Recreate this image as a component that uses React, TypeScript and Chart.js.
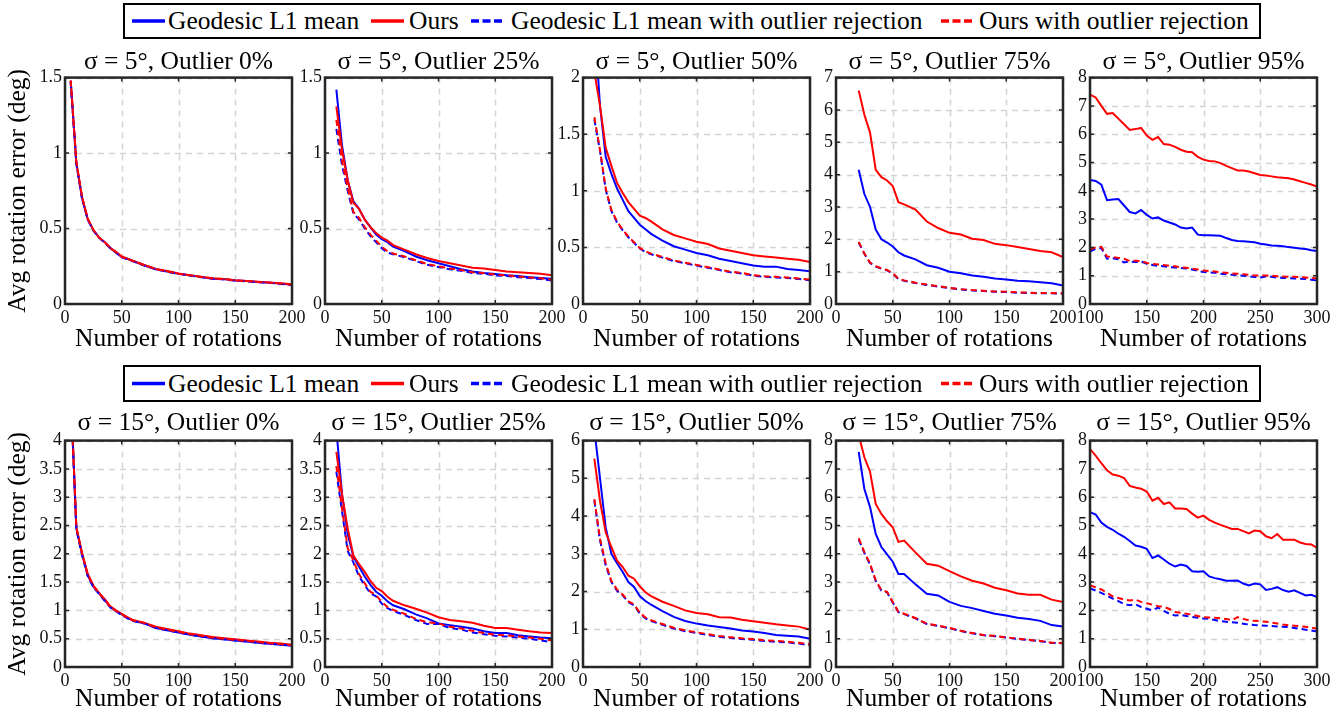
import React, { useEffect, useRef } from "react";
import { Chart, registerables } from "chart.js";

Chart.register(...registerables);

const FONT = "'Liberation Serif', 'Times New Roman', serif";

// ---------- data ----------
const SIGMAS = ["5°", "15°"];
const OUTLIERS = ["0%", "25%", "50%", "75%", "95%"];
const SERIES_LABELS = [
  "Geodesic L1 mean",
  "Ours",
  "Geodesic L1 mean with outlier rejection",
  "Ours with outlier rejection",
];

const X_A = [5, 10, 15, 20, 25, 30, 35, 40, 45, 50, 55, 60, 70, 80, 90, 100, 110, 120, 130, 140, 150, 160, 170, 180, 190, 200];
const X_B = [10, 15, 20, 25, 30, 35, 40, 45, 50, 55, 60, 70, 80, 90, 100, 110, 120, 130, 140, 150, 160, 170, 180, 190, 200];
const X_C = [20, 25, 30, 35, 40, 45, 50, 55, 60, 70, 80, 90, 100, 110, 120, 130, 140, 150, 160, 170, 180, 190, 200];
const X_D = [100, 105, 110, 115, 120, 125, 130, 135, 140, 145, 150, 155, 160, 165, 170, 175, 180, 185, 190, 195, 200, 205, 210, 215, 220, 225, 230, 235, 240, 245, 250, 255, 260, 265, 270, 275, 280, 285, 290, 295, 300];

// sigma 5, outlier 0%
const s5o0_geo = [1.48, 0.93, 0.70, 0.56, 0.49, 0.44, 0.41, 0.37, 0.34, 0.31, 0.30, 0.285, 0.255, 0.23, 0.215, 0.20, 0.19, 0.178, 0.168, 0.165, 0.155, 0.152, 0.145, 0.14, 0.135, 0.127];
const s5o0_ours = [1.48, 0.94, 0.71, 0.565, 0.49, 0.44, 0.41, 0.37, 0.345, 0.315, 0.30, 0.285, 0.258, 0.232, 0.218, 0.202, 0.19, 0.18, 0.17, 0.165, 0.157, 0.153, 0.147, 0.142, 0.137, 0.13];
const s5o0_geoRej = [1.47, 0.93, 0.70, 0.56, 0.485, 0.44, 0.405, 0.37, 0.34, 0.31, 0.295, 0.283, 0.255, 0.23, 0.213, 0.20, 0.188, 0.178, 0.168, 0.163, 0.155, 0.15, 0.145, 0.14, 0.133, 0.125];
const s5o0_oursRej = [1.48, 0.94, 0.71, 0.565, 0.49, 0.44, 0.41, 0.372, 0.343, 0.313, 0.298, 0.285, 0.257, 0.232, 0.216, 0.201, 0.19, 0.179, 0.169, 0.165, 0.156, 0.152, 0.146, 0.141, 0.135, 0.128];

// sigma 5, outlier 25%
const s5o25_geo = [1.42, 1.05, 0.82, 0.68, 0.63, 0.56, 0.51, 0.46, 0.43, 0.41, 0.38, 0.35, 0.315, 0.29, 0.27, 0.25, 0.23, 0.215, 0.205, 0.198, 0.19, 0.185, 0.178, 0.172, 0.167];
const s5o25_ours = [1.31, 1.02, 0.82, 0.67, 0.63, 0.56, 0.51, 0.47, 0.44, 0.42, 0.39, 0.36, 0.33, 0.305, 0.285, 0.27, 0.255, 0.24, 0.235, 0.225, 0.215, 0.21, 0.205, 0.2, 0.19];
const s5o25_geoRej = [1.16, 0.92, 0.75, 0.60, 0.56, 0.50, 0.45, 0.41, 0.37, 0.34, 0.33, 0.31, 0.285, 0.26, 0.245, 0.23, 0.22, 0.205, 0.2, 0.19, 0.185, 0.178, 0.172, 0.165, 0.155];
const s5o25_oursRej = [1.22, 0.95, 0.77, 0.61, 0.57, 0.51, 0.46, 0.42, 0.38, 0.35, 0.335, 0.315, 0.29, 0.265, 0.25, 0.235, 0.225, 0.21, 0.205, 0.195, 0.19, 0.182, 0.176, 0.17, 0.16];

// sigma 5, outlier 50%
const s5o50_geo = [2.5, 1.75, 1.3, 1.15, 1.02, 0.92, 0.82, 0.76, 0.70, 0.66, 0.62, 0.56, 0.51, 0.48, 0.45, 0.43, 0.40, 0.38, 0.36, 0.34, 0.33, 0.33, 0.31, 0.30, 0.29];
const s5o50_ours = [2.05, 1.75, 1.38, 1.22, 1.07, 0.98, 0.90, 0.84, 0.78, 0.76, 0.73, 0.66, 0.61, 0.58, 0.55, 0.53, 0.49, 0.47, 0.45, 0.43, 0.42, 0.41, 0.40, 0.39, 0.37];
const s5o50_geoRej = [1.63, 1.35, 1.01, 0.82, 0.72, 0.65, 0.59, 0.54, 0.49, 0.46, 0.44, 0.41, 0.38, 0.36, 0.34, 0.32, 0.30, 0.28, 0.27, 0.25, 0.24, 0.235, 0.23, 0.22, 0.21];
const s5o50_oursRej = [1.65, 1.36, 1.02, 0.83, 0.73, 0.655, 0.595, 0.545, 0.495, 0.465, 0.445, 0.415, 0.385, 0.365, 0.345, 0.325, 0.305, 0.285, 0.275, 0.255, 0.245, 0.24, 0.235, 0.225, 0.215];

// sigma 5, outlier 75%
const s5o75_geo = [4.15, 3.4, 3.0, 2.3, 2.0, 1.9, 1.78, 1.6, 1.5, 1.38, 1.2, 1.12, 1.0, 0.95, 0.88, 0.84, 0.79, 0.76, 0.72, 0.7, 0.67, 0.64, 0.57];
const s5o75_ours = [6.6, 5.85, 5.3, 4.15, 3.92, 3.82, 3.65, 3.15, 3.08, 2.92, 2.55, 2.35, 2.2, 2.15, 2.02, 1.98, 1.86, 1.82, 1.76, 1.7, 1.64, 1.6, 1.45];
const s5o75_geoRej = [1.90, 1.55, 1.27, 1.16, 1.09, 1.04, 0.94, 0.77, 0.72, 0.65, 0.59, 0.54, 0.49, 0.45, 0.42, 0.40, 0.38, 0.37, 0.35, 0.34, 0.33, 0.33, 0.32];
const s5o75_oursRej = [1.92, 1.56, 1.28, 1.17, 1.10, 1.05, 0.95, 0.78, 0.73, 0.66, 0.60, 0.55, 0.50, 0.46, 0.43, 0.41, 0.39, 0.38, 0.36, 0.35, 0.34, 0.34, 0.33];

// sigma 5, outlier 95%
const s5o95_geo = [4.38, 4.35, 4.22, 3.67, 3.69, 3.71, 3.48, 3.25, 3.2, 3.32, 3.15, 3.02, 3.06, 2.95, 2.88, 2.81, 2.7, 2.67, 2.7, 2.45, 2.43, 2.43, 2.42, 2.41, 2.33, 2.26, 2.23, 2.22, 2.2, 2.18, 2.13, 2.1, 2.07, 2.06, 2.04, 2.01, 1.99, 1.96, 1.94, 1.9, 1.87];
const s5o95_ours = [7.4, 7.3, 7.0, 6.72, 6.75, 6.55, 6.35, 6.15, 6.18, 6.22, 5.95, 5.8, 5.9, 5.65, 5.63, 5.55, 5.45, 5.38, 5.36, 5.2, 5.1, 5.05, 5.04, 4.98, 4.88, 4.8, 4.72, 4.72, 4.68, 4.62, 4.56, 4.54, 4.51, 4.48, 4.46, 4.44, 4.4, 4.34, 4.28, 4.22, 4.15];
const s5o95_geoRej = [1.85, 1.95, 1.98, 1.6, 1.62, 1.58, 1.47, 1.5, 1.48, 1.5, 1.42, 1.38, 1.35, 1.33, 1.3, 1.29, 1.27, 1.25, 1.22, 1.17, 1.13, 1.12, 1.1, 1.07, 1.05, 1.03, 1.02, 1.0, 0.98, 0.95, 0.94, 0.97, 0.96, 0.93, 0.92, 0.91, 0.9, 0.89, 0.88, 0.86, 0.83];
const s5o95_oursRej = [1.92, 2.0, 2.02, 1.68, 1.66, 1.63, 1.6, 1.52, 1.53, 1.52, 1.45, 1.42, 1.4, 1.38, 1.35, 1.33, 1.3, 1.28, 1.25, 1.22, 1.18, 1.16, 1.15, 1.12, 1.1, 1.08, 1.07, 1.05, 1.03, 1.01, 1.0, 1.01, 1.0, 0.98, 0.97, 0.96, 0.96, 0.95, 0.94, 0.92, 0.9];

// sigma 15, outlier 0%
const s15o0_geo = [4.9, 2.45, 2.0, 1.62, 1.42, 1.3, 1.18, 1.06, 0.99, 0.93, 0.87, 0.82, 0.77, 0.69, 0.65, 0.61, 0.57, 0.54, 0.51, 0.49, 0.47, 0.45, 0.43, 0.41, 0.395, 0.375];
const s15o0_ours = [4.9, 2.47, 2.02, 1.65, 1.44, 1.31, 1.2, 1.07, 1.0, 0.94, 0.88, 0.83, 0.78, 0.71, 0.67, 0.63, 0.59, 0.56, 0.53, 0.51, 0.49, 0.47, 0.45, 0.43, 0.415, 0.395];
const s15o0_geoRej = [4.85, 2.43, 1.98, 1.61, 1.41, 1.29, 1.17, 1.05, 0.98, 0.92, 0.86, 0.81, 0.77, 0.69, 0.65, 0.61, 0.57, 0.54, 0.51, 0.49, 0.47, 0.45, 0.43, 0.41, 0.395, 0.38];
const s15o0_oursRej = [4.9, 2.46, 2.0, 1.63, 1.43, 1.3, 1.19, 1.06, 0.99, 0.93, 0.87, 0.82, 0.78, 0.7, 0.66, 0.62, 0.58, 0.55, 0.52, 0.5, 0.48, 0.46, 0.44, 0.42, 0.405, 0.385];

// sigma 15, outlier 25%
const s15o25_geo = [4.2, 3.05, 2.35, 1.95, 1.77, 1.6, 1.45, 1.33, 1.26, 1.16, 1.09, 1.02, 0.93, 0.86, 0.77, 0.74, 0.71, 0.68, 0.63, 0.6, 0.6, 0.56, 0.54, 0.52, 0.51];
const s15o25_ours = [3.8, 3.05, 2.45, 1.97, 1.82, 1.68, 1.52, 1.4, 1.34, 1.24, 1.17, 1.09, 1.03, 0.96, 0.88, 0.83, 0.81, 0.78, 0.73, 0.69, 0.69, 0.66, 0.63, 0.61, 0.6];
const s15o25_geoRej = [3.45, 2.75, 2.05, 1.85, 1.6, 1.45, 1.3, 1.25, 1.12, 1.04, 0.99, 0.92, 0.83, 0.76, 0.76, 0.69, 0.66, 0.61, 0.58, 0.55, 0.54, 0.52, 0.5, 0.47, 0.44];
const s15o25_oursRej = [3.55, 2.8, 2.1, 1.88, 1.64, 1.48, 1.33, 1.27, 1.15, 1.06, 1.01, 0.94, 0.85, 0.79, 0.77, 0.71, 0.68, 0.64, 0.6, 0.57, 0.56, 0.54, 0.52, 0.5, 0.47];

// sigma 15, outlier 50%
const s15o50_geo = [6.3, 5.0, 3.7, 3.0, 2.75, 2.52, 2.25, 2.12, 1.88, 1.75, 1.65, 1.48, 1.33, 1.22, 1.15, 1.1, 1.06, 1.02, 0.97, 0.94, 0.9, 0.85, 0.83, 0.81, 0.75];
const s15o50_ours = [5.52, 4.4, 3.57, 3.18, 2.82, 2.65, 2.42, 2.34, 2.14, 1.98, 1.88, 1.73, 1.62, 1.5, 1.43, 1.4, 1.32, 1.31, 1.25, 1.21, 1.17, 1.13, 1.1, 1.07, 0.99];
const s15o50_geoRej = [4.41, 3.35, 2.7, 2.25, 2.02, 1.9, 1.72, 1.63, 1.42, 1.29, 1.22, 1.12, 1.02, 0.95, 0.9, 0.85, 0.8, 0.77, 0.74, 0.72, 0.69, 0.67, 0.65, 0.62, 0.57];
const s15o50_oursRej = [4.45, 3.4, 2.75, 2.28, 2.05, 1.92, 1.74, 1.66, 1.44, 1.31, 1.24, 1.14, 1.04, 0.97, 0.92, 0.87, 0.82, 0.79, 0.76, 0.74, 0.71, 0.69, 0.67, 0.64, 0.6];

// sigma 15, outlier 75%
const s15o75_geo = [7.6, 6.29, 5.65, 4.7, 4.24, 3.98, 3.72, 3.29, 3.29, 2.92, 2.59, 2.53, 2.3, 2.16, 2.08, 1.98, 1.88, 1.82, 1.74, 1.7, 1.63, 1.48, 1.43];
const s15o75_ours = [8.2, 7.41, 6.9, 5.76, 5.41, 5.15, 4.94, 4.42, 4.47, 4.05, 3.65, 3.58, 3.39, 3.2, 3.05, 2.95, 2.8, 2.71, 2.6, 2.55, 2.55, 2.38, 2.3];
const s15o75_geoRej = [4.5, 4.03, 3.62, 3.04, 2.7, 2.64, 2.28, 1.94, 1.87, 1.72, 1.52, 1.45, 1.37, 1.27, 1.19, 1.12, 1.09, 1.04, 0.99, 0.95, 0.91, 0.85, 0.84];
const s15o75_oursRej = [4.55, 4.06, 3.65, 3.06, 2.72, 2.66, 2.3, 1.95, 1.88, 1.73, 1.53, 1.46, 1.38, 1.28, 1.2, 1.13, 1.1, 1.05, 1.0, 0.96, 0.92, 0.86, 0.85];

// sigma 15, outlier 95%
const s15o95_geo = [5.47, 5.39, 5.1, 4.95, 4.85, 4.71, 4.6, 4.45, 4.29, 4.25, 4.18, 3.85, 3.94, 3.8, 3.65, 3.55, 3.62, 3.57, 3.38, 3.37, 3.38, 3.2, 3.14, 3.1, 3.05, 3.05, 3.06, 2.95, 2.88, 2.95, 2.92, 2.72, 2.76, 2.82, 2.72, 2.66, 2.71, 2.62, 2.53, 2.55, 2.47];
const s15o95_ours = [7.7, 7.47, 7.2, 6.95, 6.8, 6.76, 6.68, 6.4, 6.34, 6.3, 6.2, 5.88, 5.98, 5.76, 5.82, 5.6, 5.6, 5.58, 5.42, 5.28, 5.35, 5.2, 5.1, 5.02, 4.95, 4.88, 4.88, 4.8, 4.72, 4.82, 4.8, 4.62, 4.55, 4.7, 4.5, 4.5, 4.5, 4.4, 4.35, 4.33, 4.21];
const s15o95_geoRej = [2.78, 2.7, 2.62, 2.52, 2.42, 2.33, 2.22, 2.18, 2.22, 2.12, 2.06, 2.0, 2.1, 1.98, 1.88, 1.82, 1.84, 1.8, 1.77, 1.74, 1.71, 1.7, 1.66, 1.62, 1.6, 1.58, 1.56, 1.53, 1.5, 1.48, 1.47, 1.46, 1.45, 1.43, 1.42, 1.41, 1.38, 1.35, 1.32, 1.29, 1.25];
const s15o95_oursRej = [2.88, 2.82, 2.74, 2.62, 2.5, 2.44, 2.38, 2.35, 2.38, 2.3, 2.25, 2.2, 2.15, 2.13, 2.05, 1.94, 1.92, 1.88, 1.85, 1.8, 1.76, 1.75, 1.74, 1.72, 1.7, 1.65, 1.76, 1.7, 1.65, 1.63, 1.62, 1.6, 1.57, 1.54, 1.5, 1.47, 1.46, 1.44, 1.42, 1.39, 1.35];

// axes ranges
const X_MIN = [0, 0, 0, 0, 100];
const X_MAX = [200, 200, 200, 200, 300];
const X_STEP = 50;
const Y_MAX = [
  [1.5, 1.5, 2, 7, 8],
  [4, 4, 6, 8, 8],
];
const Y_STEP = [
  [0.5, 0.5, 0.5, 1, 1],
  [0.5, 0.5, 1, 1, 1],
];

const PANEL_X = [
  [X_A, X_B, X_B, X_C, X_D],
  [X_A, X_B, X_B, X_C, X_D],
];
const PANEL_Y = [
  [
    [s5o0_geo, s5o0_ours, s5o0_geoRej, s5o0_oursRej],
    [s5o25_geo, s5o25_ours, s5o25_geoRej, s5o25_oursRej],
    [s5o50_geo, s5o50_ours, s5o50_geoRej, s5o50_oursRej],
    [s5o75_geo, s5o75_ours, s5o75_geoRej, s5o75_oursRej],
    [s5o95_geo, s5o95_ours, s5o95_geoRej, s5o95_oursRej],
  ],
  [
    [s15o0_geo, s15o0_ours, s15o0_geoRej, s15o0_oursRej],
    [s15o25_geo, s15o25_ours, s15o25_geoRej, s15o25_oursRej],
    [s15o50_geo, s15o50_ours, s15o50_geoRej, s15o50_oursRej],
    [s15o75_geo, s15o75_ours, s15o75_geoRej, s15o75_oursRej],
    [s15o95_geo, s15o95_ours, s15o95_geoRej, s15o95_oursRej],
  ],
];

// ---------- styles / layout ----------
const SERIES_COLORS = ["#0000ff", "#ff0000", "#0000ff", "#ff0000"];
const SERIES_DASHED = [false, false, true, true];

const PLOT_LEFT = [65, 325, 583, 836, 1090];
const PLOT_W = 227;
const PLOT_H = 227;
const ROW_TOP = [77, 440];
const TITLE_H = [30, 32];
const XAXIS_H = [52, 48];
const RIGHT_PAD = 20;
const LEGEND_TOP = [3, 365];
const LEGEND_H = [36, 37];
const LEGEND_LEFT = 123;
const LEGEND_W = 1138;
const LEG_LINE_X = [132, 371, 471, 941];
const LEG_TEXT_X = [168, 409, 511, 979];

const AXIS_COLOR = "#262626";

const boxPlugin = {
  id: "matlabBox",
  beforeDatasetsDraw(chart: any) {
    const { ctx, chartArea, scales } = chart;
    const { left, right, top, bottom } = chartArea;
    ctx.save();
    ctx.strokeStyle = "#d4d4d4";
    ctx.lineWidth = 1.5;
    ctx.setLineDash([6, 5]);
    ctx.beginPath();
    scales.x.ticks.forEach((t: any) => {
      const px = Math.round(scales.x.getPixelForValue(t.value)) + 0.5;
      ctx.moveTo(px, top);
      ctx.lineTo(px, bottom);
    });
    scales.y.ticks.forEach((t: any) => {
      const py = Math.round(scales.y.getPixelForValue(t.value)) + 0.5;
      ctx.moveTo(left, py);
      ctx.lineTo(right, py);
    });
    ctx.stroke();
    ctx.restore();
  },
  afterDatasetsDraw(chart: any) {
    const { ctx, chartArea, scales } = chart;
    const { left, right, top, bottom } = chartArea;
    const tl = 4;
    ctx.save();
    ctx.setLineDash([]);
    ctx.strokeStyle = AXIS_COLOR;
    ctx.lineWidth = 1.5;
    ctx.beginPath();
    scales.x.ticks.forEach((t: any) => {
      const px = scales.x.getPixelForValue(t.value);
      ctx.moveTo(px, bottom);
      ctx.lineTo(px, bottom - tl);
      ctx.moveTo(px, top);
      ctx.lineTo(px, top + tl);
    });
    scales.y.ticks.forEach((t: any) => {
      const py = scales.y.getPixelForValue(t.value);
      ctx.moveTo(left, py);
      ctx.lineTo(left + tl, py);
      ctx.moveTo(right, py);
      ctx.lineTo(right - tl, py);
    });
    ctx.stroke();
    ctx.lineWidth = 2.5;
    ctx.strokeRect(left, top, right - left, bottom - top);
    ctx.restore();
  },
};

function makeConfig(row: number, col: number, yw: number) {
  const xs = PANEL_X[row][col];
  const series = PANEL_Y[row][col];
  const bigFont = { family: FONT, size: 25.5, weight: "normal" as const, lineHeight: 1.2 };
  const tickFont = { family: FONT, size: 18, weight: "normal" as const, lineHeight: 1.2 };
  return {
    type: "line" as const,
    data: {
      datasets: series.map((ys, k) => ({
        label: SERIES_LABELS[k],
        data: xs.map((x, i) => ({ x, y: ys[i] })),
        borderColor: SERIES_COLORS[k],
        backgroundColor: SERIES_COLORS[k],
        borderWidth: 2,
        borderDash: SERIES_DASHED[k] ? [6, 4] : [],
        pointRadius: 0,
        tension: 0,
        fill: false,
        order: 3 - k,
      })),
    },
    options: {
      responsive: false,
      animation: false as const,
      events: [],
      layout: { padding: { left: 0, right: RIGHT_PAD, top: 0, bottom: 0 } },
      plugins: {
        legend: { display: false },
        tooltip: { enabled: false },
        title: {
          display: true,
          fullSize: false,
          text: `σ = ${SIGMAS[row]}, Outlier ${OUTLIERS[col]}`,
          color: "#000",
          font: bigFont,
          padding: { top: 0, bottom: TITLE_H[row] - 30 },
        },
      },
      scales: {
        x: {
          type: "linear" as const,
          min: X_MIN[col],
          max: X_MAX[col],
          ticks: {
            stepSize: X_STEP,
            padding: 3,
            autoSkip: false,
            maxRotation: 0,
            color: "#111",
            font: tickFont,
          },
          grid: { display: false, drawTicks: false },
          border: { display: false },
          title: {
            display: true,
            text: "Number of rotations",
            color: "#000",
            font: bigFont,
            padding: { top: 0, bottom: row === 0 ? 1 : 0 },
          },
          afterFit: (s: any) => {
            s.height = XAXIS_H[row];
          },
        },
        y: {
          type: "linear" as const,
          min: 0,
          max: Y_MAX[row][col],
          ticks: {
            stepSize: Y_STEP[row][col],
            padding: 3,
            color: "#111",
            font: tickFont,
            callback: (v: any) => String(Math.round(Number(v) * 100) / 100),
          },
          grid: { display: false, drawTicks: false },
          border: { display: false },
          title: {
            display: col === 0,
            text: "Avg rotation error (deg)",
            color: "#000",
            font: bigFont,
            padding: { top: 3, bottom: 0 },
          },
          afterFit: (s: any) => {
            s.width = yw;
          },
        },
      },
    },
    plugins: [boxPlugin],
  };
}

function Panel({ row, col }: { row: number; col: number }) {
  const ref = useRef<HTMLCanvasElement | null>(null);
  const yw = col === 0 ? PLOT_LEFT[0] : 30;
  const left = PLOT_LEFT[col] - yw;
  const top = ROW_TOP[row] - TITLE_H[row];
  const width = yw + PLOT_W + RIGHT_PAD;
  const height = TITLE_H[row] + PLOT_H + XAXIS_H[row];
  useEffect(() => {
    if (!ref.current) return;
    const chart = new Chart(ref.current, makeConfig(row, col, yw) as any);
    return () => chart.destroy();
  }, [row, col, yw]);
  return (
    <canvas
      ref={ref}
      width={width}
      height={height}
      style={{ position: "absolute", left, top, width, height }}
    />
  );
}

function Legend({ row }: { row: number }) {
  const h = LEGEND_H[row];
  const inner = h - 4;
  return (
    <div
      style={{
        position: "absolute",
        left: LEGEND_LEFT,
        top: LEGEND_TOP[row],
        width: LEGEND_W,
        height: h,
        border: "2px solid #000",
        boxSizing: "border-box",
        background: "#fff",
      }}
    >
      {SERIES_LABELS.map((label, k) => (
        <React.Fragment key={k}>
          <svg
            width={33}
            height={inner}
            style={{ position: "absolute", left: LEG_LINE_X[k] - LEGEND_LEFT - 2, top: 0 }}
          >
            <line
              x1={0}
              y1={inner / 2}
              x2={33}
              y2={inner / 2}
              stroke={SERIES_COLORS[k]}
              strokeWidth={3.5}
              strokeDasharray={SERIES_DASHED[k] ? "8 3.5" : undefined}
            />
          </svg>
          <span
            style={{
              position: "absolute",
              left: LEG_TEXT_X[k] - LEGEND_LEFT - 2,
              top: 0,
              height: inner,
              lineHeight: `${inner}px`,
              fontFamily: FONT,
              fontSize: 25.5,
              color: "#000",
              whiteSpace: "nowrap",
            }}
          >
            {label}
          </span>
        </React.Fragment>
      ))}
    </div>
  );
}

export default function App() {
  return (
    <div
      style={{
        position: "absolute",
        left: 0,
        top: 0,
        width: 1341,
        height: 715,
        overflow: "hidden",
        background: "#fff",
      }}
    >
      {[0, 1].map((row) => (
        <React.Fragment key={row}>
          <Legend row={row} />
          {[0, 1, 2, 3, 4].map((col) => (
            <Panel key={col} row={row} col={col} />
          ))}
        </React.Fragment>
      ))}
    </div>
  );
}
